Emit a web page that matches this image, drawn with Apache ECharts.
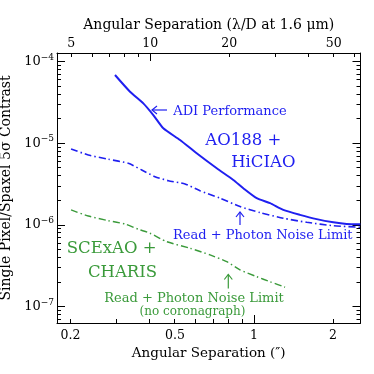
<!DOCTYPE html>
<html><head><meta charset="utf-8">
<script src="https://cdn.jsdelivr.net/npm/echarts@6/dist/echarts.min.js"></script>
<style>html,body{margin:0;padding:0;background:#fff}#c{width:374px;height:374px}</style>
</head><body><div id="c"></div>
<script>
// ---- data (angular separation in arcsec, 5-sigma contrast) ----
const sepADI = [0.2954, 0.337, 0.3787, 0.4134, 0.4513, 0.5225, 0.6048, 0.7211, 0.834, 0.9103, 1.024, 1.151, 1.293, 1.497, 1.733, 2.005, 2.255, 2.54];
const conADI = [6.87e-5, 4.29e-5, 3.09e-5, 2.22e-5, 1.53e-5, 1.10e-5, 7.56e-6, 4.95e-6, 3.56e-6, 2.82e-6, 2.13e-6, 1.85e-6, 1.53e-6, 1.33e-6, 1.18e-6, 1.08e-6, 1.03e-6, 1.02e-6];
const sepHiCIAOLimit = [0.2009, 0.2337, 0.2786, 0.332, 0.3734, 0.4197, 0.4716, 0.5461, 0.6226, 0.7424, 0.8845, 1.054, 1.293, 1.588, 2.005, 2.534];
const conHiCIAOLimit = [8.53e-6, 7.21e-6, 6.38e-6, 5.70e-6, 4.72e-6, 3.91e-6, 3.49e-6, 3.18e-6, 2.63e-6, 2.13e-6, 1.68e-6, 1.42e-6, 1.21e-6, 1.08e-6, 9.81e-7, 9.38e-7];
const sepCHARISLimit = [0.2009, 0.2337, 0.2786, 0.3225, 0.3624, 0.4016, 0.4651, 0.5705, 0.6799, 0.787, 0.8845, 1.024, 1.151, 1.313];
const conCHARISLimit = [1.53e-6, 1.29e-6, 1.13e-6, 1.03e-6, 8.87e-7, 7.93e-7, 6.25e-7, 5.19e-7, 4.30e-7, 3.56e-7, 2.82e-7, 2.33e-7, 2.02e-7, 1.73e-7];

// ---- tick labels ----
const xTickLabels = [0.2, 0.5, 1, 2];
const topTickLabels = [5, 10, 20, 50];
const yTickExponents = [-7, -6, -5, -4];

// ---- axis setup ----
const LAMBDA_OVER_D = 1.6e-6 / 8.2 * 206264.806; // arcsec per lambda/D
const X_RANGE = [0.1776, 2.545];
const Y_RANGE_LOG = [-7.2, -3.8935];

const L = Math.log10;
const FONT = 'DejaVu Serif';
const BLUE = '#1f1ff0';
const GREEN = '#3a9a3a';

function minorTicks(lo, hi) {
  const out = [];
  for (let n = Math.floor(lo) - 1; n <= Math.ceil(hi) + 1; n++) {
    for (let k = 2; k <= 9; k++) {
      const v = L(k) + n;
      if (v > lo + 1e-6 && v < hi - 1e-6) out.push(v);
    }
  }
  return out;
}
function majorTicks(lo, hi) {
  const out = [];
  for (let n = Math.ceil(lo); n <= Math.floor(hi); n++) out.push(n);
  return out;
}
const xmin = L(X_RANGE[0]), xmax = L(X_RANGE[1]);
const tmin = L(X_RANGE[0] / LAMBDA_OVER_D), tmax = L(X_RANGE[1] / LAMBDA_OVER_D);
const ymin = Y_RANGE_LOG[0], ymax = Y_RANGE_LOG[1];

function fmtNum(v) { return String(parseFloat(Math.pow(10, v).toPrecision(3))); }

function makeAxis(position, min, max, labelVals, labelFmt, name, extra) {
  return Object.assign({
    type: 'value', position, min, max,
    axisLine: { show: true, onZero: false, lineStyle: { color: '#000', width: 1 } },
    axisTick: { show: false },
    axisLabel: labelVals ? { show: true, customValues: labelVals, formatter: labelFmt, fontFamily: FONT, fontSize: 12.5, color: '#000', margin: 6 } : { show: false },
    splitLine: { show: false },
    name: name || '', nameLocation: 'middle',
    nameTextStyle: { fontFamily: FONT, fontSize: 13.5, color: '#000' }
  }, extra || {});
}

const xAxes = [
  makeAxis('bottom', xmin, xmax, xTickLabels.map(L), fmtNum, 'Angular Separation (\u2033)', { nameGap: 22 }),
  makeAxis('top', tmin, tmax, topTickLabels.map(L), fmtNum, 'Angular Separation (\u03bb/D at 1.6 \u03bcm)', { nameGap: 14 })
];
xAxes[1].axisLabel.margin = 3;
xAxes[1].nameTextStyle.fontSize = 14;
const yFmt = v => '{b|10}{s|\u2212' + Math.round(-v) + '}';
const yAxes = [
  makeAxis('left', ymin, ymax, yTickExponents, yFmt, 'Single Pixel/Spaxel 5\u03c3 Contrast', { nameGap: 32 }),
  makeAxis('right', ymin, ymax, null, null, '', {})
];
yAxes[0].nameTextStyle.fontSize = 14;
yAxes[0].axisLabel.margin = 3;
yAxes[0].axisLabel.rich = {
  b: { fontFamily: FONT, fontSize: 13, color: '#000' },
  s: { fontFamily: FONT, fontSize: 9, color: '#000', padding: [0, 0, 9, 0] }
};

function toXY(seps, cons) { return seps.map((s, i) => [L(s), L(cons[i])]); }

const annotations = [
  // ADI arrow + label
  { type: 'line', shape: { x1: 152, y1: 110, x2: 167, y2: 110 }, style: { stroke: BLUE, lineWidth: 1.2 } },
  { type: 'polyline', shape: { points: [[157, 106], [152, 110], [157, 114]] }, style: { stroke: BLUE, lineWidth: 1.2, fill: null } },
  { type: 'text', style: { text: 'ADI Performance', x: 230, y: 111.5, align: 'center', verticalAlign: 'middle', font: '13px "DejaVu Serif"', fill: BLUE } },
  { type: 'text', style: { text: 'AO188 +', x: 243.3, y: 141, align: 'center', verticalAlign: 'middle', font: '16.5px "DejaVu Serif"', fill: BLUE } },
  { type: 'text', style: { text: 'HiCIAO', x: 263.3, y: 162.5, align: 'center', verticalAlign: 'middle', font: '16.5px "DejaVu Serif"', fill: BLUE } },
  // blue noise limit arrow + label
  { type: 'line', shape: { x1: 240, y1: 212, x2: 240, y2: 225 }, style: { stroke: BLUE, lineWidth: 1.2 } },
  { type: 'polyline', shape: { points: [[236, 217], [240, 212], [244, 217]] }, style: { stroke: BLUE, lineWidth: 1.2, fill: null } },
  { type: 'text', style: { text: 'Read + Photon Noise Limit', x: 262.8, y: 235.5, align: 'center', verticalAlign: 'middle', font: '13px "DejaVu Serif"', fill: BLUE } },
  // green labels
  { type: 'text', style: { text: 'SCExAO +', x: 111.7, y: 249, align: 'center', verticalAlign: 'middle', font: '16.5px "DejaVu Serif"', fill: GREEN } },
  { type: 'text', style: { text: 'CHARIS', x: 122.5, y: 272.5, align: 'center', verticalAlign: 'middle', font: '16.5px "DejaVu Serif"', fill: GREEN } },
  { type: 'line', shape: { x1: 228.3, y1: 274.5, x2: 228.3, y2: 288.5 }, style: { stroke: GREEN, lineWidth: 1.2 } },
  { type: 'polyline', shape: { points: [[224.3, 279.5], [228.3, 274.5], [232.3, 279.5]] }, style: { stroke: GREEN, lineWidth: 1.2, fill: null } },
  { type: 'text', style: { text: 'Read + Photon Noise Limit', x: 194, y: 298.5, align: 'center', verticalAlign: 'middle', font: '13px "DejaVu Serif"', fill: GREEN } },
  { type: 'text', style: { text: '(no coronagraph)', x: 192.5, y: 312, align: 'center', verticalAlign: 'middle', font: '12px "DejaVu Serif"', fill: GREEN } }
];

const option = {
  animation: false,
  backgroundColor: '#fff',
  grid: { left: 57, right: 13.5, top: 53, bottom: 51, containLabel: false, outerBoundsMode: 'none' },
  xAxis: xAxes,
  yAxis: yAxes,
  series: [
    { type: 'line', name: 'ADI Performance', data: toXY(sepADI, conADI), showSymbol: false, smooth: 0.2,
      lineStyle: { color: BLUE, width: 2 } },
    { type: 'line', name: 'Read + Photon Noise Limit (HiCIAO)', data: toXY(sepHiCIAOLimit, conHiCIAOLimit), showSymbol: false, smooth: 0.2,
      lineStyle: { color: BLUE, width: 1.6, type: [7, 3, 1.5, 3] } },
    { type: 'line', name: 'Read + Photon Noise Limit (CHARIS)', data: toXY(sepCHARISLimit, conCHARISLimit), showSymbol: false, smooth: 0.2,
      lineStyle: { color: GREEN, width: 1.4, type: [7, 3, 1.5, 3] } }
  ],
  graphic: annotations
};
const chart = echarts.init(document.getElementById('c'), null, { renderer: 'canvas' });
chart.setOption(option);

// ---- log-axis tick marks (inward), positioned through the chart's own axis scales ----
const pxB = v => chart.convertToPixel({ xAxisIndex: 0 }, v);
const pxT = v => chart.convertToPixel({ xAxisIndex: 1 }, v);
const pyL = v => chart.convertToPixel({ yAxisIndex: 0 }, v);
const X0 = pxB(xmin), X1 = pxB(xmax), Y0 = pyL(ymax), Y1 = pyL(ymin);
const crisp = p => Math.round(p - 0.5) + 0.5;
const tickStyle = { stroke: '#000', lineWidth: 1 };
const ticks = [];
function vTick(x, yEdge, len) { const cx = crisp(x); ticks.push({ type: 'line', silent: true, shape: { x1: cx, y1: yEdge, x2: cx, y2: yEdge + len }, style: tickStyle }); }
function hTick(y, xEdge, len) { const cy = crisp(y); ticks.push({ type: 'line', silent: true, shape: { x1: xEdge, y1: cy, x2: xEdge + len, y2: cy }, style: tickStyle }); }
majorTicks(xmin, xmax).forEach(v => vTick(pxB(v), Y1, -8));
minorTicks(xmin, xmax).forEach(v => vTick(pxB(v), Y1, -4));
majorTicks(tmin, tmax).forEach(v => vTick(pxT(v), Y0, 8));
minorTicks(tmin, tmax).forEach(v => vTick(pxT(v), Y0, 4));
majorTicks(ymin, ymax).forEach(v => { hTick(pyL(v), X0, 8); hTick(pyL(v), X1, -8); });
minorTicks(ymin, ymax).forEach(v => { hTick(pyL(v), X0, 4); hTick(pyL(v), X1, -4); });
chart.setOption({ graphic: annotations.concat(ticks) });
</script>
</body></html>
